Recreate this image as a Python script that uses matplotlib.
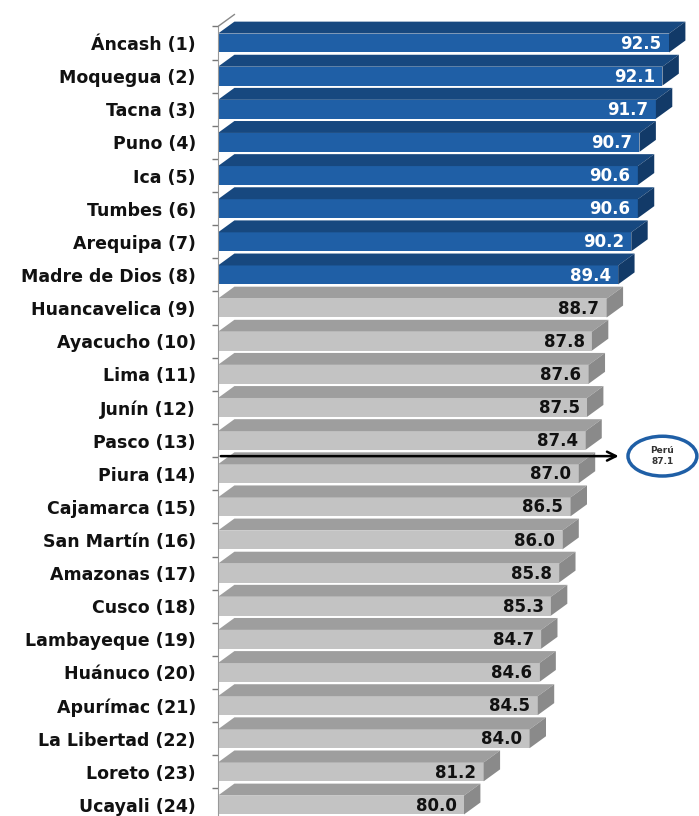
import numpy as np
import matplotlib.pyplot as plt
from matplotlib.patches import Polygon, Ellipse

# Regions ranked by indicator value
regiones = ["Áncash (1)", "Moquegua (2)", "Tacna (3)", "Puno (4)", "Ica (5)",
            "Tumbes (6)", "Arequipa (7)", "Madre de Dios (8)", "Huancavelica (9)",
            "Ayacucho (10)", "Lima (11)", "Junín (12)", "Pasco (13)", "Piura (14)",
            "Cajamarca (15)", "San Martín (16)", "Amazonas (17)", "Cusco (18)",
            "Lambayeque (19)", "Huánuco (20)", "Apurímac (21)", "La Libertad (22)",
            "Loreto (23)", "Ucayali (24)"]
valores = [92.5, 92.1, 91.7, 90.7, 90.6, 90.6, 90.2, 89.4, 88.7, 87.8, 87.6, 87.5,
           87.4, 87.0, 86.5, 86.0, 85.8, 85.3, 84.7, 84.6, 84.5, 84.0, 81.2, 80.0]
peru = 87.1
n_azules = 8

x0 = 65.0          # where the bars start
h = 0.57           # front face height
dx, dy = 1.0, 0.36  # 3D depth offset

azul = ("#1f5fa6", "#17487f", "#123a68")
gris = ("#c3c3c3", "#9e9e9e", "#8a8a8a")

fig = plt.figure(figsize=(6.99, 8.16), dpi=100)
ax = fig.add_axes([218 / 699, 0, 1 - 218 / 699, 1])
ax.set_xlim(x0, x0 + (699 - 218) / 16.4)
ax.set_ylim((816 - 43) / 33.13, -43 / 33.13)

for i, v in enumerate(valores):
    front, top, side = azul if i < n_azules else gris
    yb, yt = i + h / 2, i - h / 2
    ax.barh(i, v - x0, left=x0, height=h, color=front, edgecolor="none", zorder=2)
    ax.add_patch(Polygon([(x0, yt), (v, yt), (v + dx, yt - dy), (x0 + dx, yt - dy)],
                         closed=True, facecolor=top, edgecolor="none", zorder=2))
    ax.add_patch(Polygon([(v, yt), (v, yb), (v + dx, yb - dy), (v + dx, yt - dy)],
                         closed=True, facecolor=side, edgecolor="none", zorder=2))
    ax.text(v - 0.45, i + 0.02, f"{v:.1f}", ha="right", va="center", fontsize=12,
            fontweight="bold", color="white" if i < n_azules else "#111111", zorder=4)

# back wall edge at the top left
ax.plot([x0, x0 + dx], [-0.5, -0.5 - dy], color="#888888", lw=1, zorder=3)

# national average marker
y_peru = 12.47
ax.annotate("", xy=(89.6, y_peru), xytext=(x0, y_peru),
            arrowprops=dict(arrowstyle="->", color="black", lw=1.8,
                            mutation_scale=16), zorder=5)
ax.add_patch(Ellipse((92.1, y_peru), 4.2, 1.2, facecolor="white",
                     edgecolor="#1f5fa6", lw=2.5, zorder=5))
ax.text(92.1, y_peru, "Perú\n87.1", ha="center", va="center", fontsize=6.5,
        fontweight="bold", color="#333333", linespacing=1.3, zorder=6)

ax.set_yticks(np.arange(len(valores)))
ax.set_yticklabels(regiones, fontsize=12.5, fontweight="bold", color="#111111")
ax.tick_params(axis="y", length=0, pad=16)
ax.set_yticks(np.arange(len(valores)) - 0.5, minor=True)
ax.tick_params(axis="y", which="minor", length=4, color="#777777", width=1)
ax.set_xticks([])
for s in ["top", "right", "bottom"]:
    ax.spines[s].set_visible(False)
ax.spines["left"].set_color("#999999")
ax.spines["left"].set_bounds(-0.5, 23.33)

fig.savefig("out.png", dpi=100)
